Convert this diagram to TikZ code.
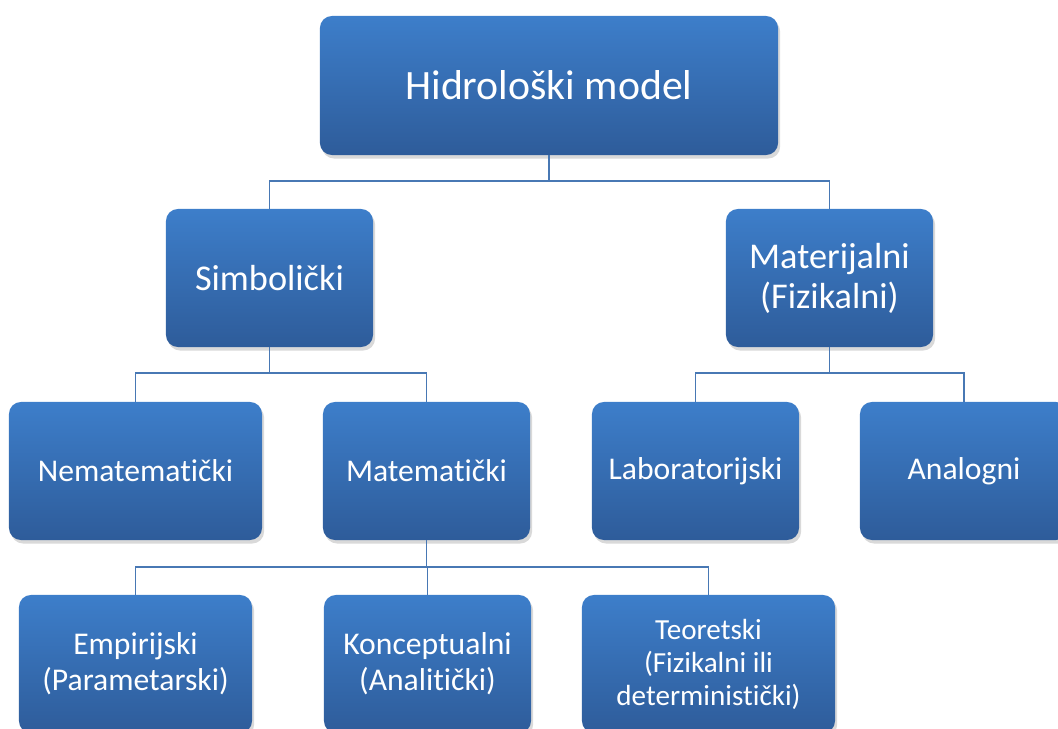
\documentclass[tikz,border=0pt]{standalone}
\usepackage{fontspec}
\setmainfont{Carlito}[Ligatures={NoCommon}]
\usetikzlibrary{shadows}
\definecolor{boxtop}{RGB}{61,126,202}
\definecolor{boxbot}{RGB}{46,92,154}
\definecolor{linkblue}{RGB}{72,120,180}

\begin{document}
\begin{tikzpicture}[
    x=0.025cm, y=-0.025cm,
    box/.style={
        rectangle,
        rounded corners=0.3cm,
        minimum width=#1,
        minimum height=3.45cm,
        inner sep=0pt,
        top color=boxtop,
        bottom color=boxbot,
        draw=none,
        text=white,
        align=center,
        drop shadow={shadow xshift=1.5pt, shadow yshift=-2.5pt, opacity=0.3}
    },
    box/.default=5.175cm,
    lvla/.style={font=\fontsize{29.7}{32}\selectfont},
    lvlb/.style={font=\fontsize{25.8}{28.5}\selectfont},
    lvlc/.style={font=\fontsize{22.5}{25.6}\selectfont},
    lvld/.style={font=\fontsize{20.7}{23.5}\selectfont},
    link/.style={draw=linkblue, line width=1.3pt}
]

\useasboundingbox (0,0) rectangle (1058,729);
\clip (0,0) rectangle (1058,729);

\coordinate (busa) at (0,181);
\coordinate (busb) at (0,373);
\coordinate (busc) at (0,567);

\node[box=11.45cm, minimum height=3.475cm, lvla] (hm) at (549,85.5) {Hidrološki model};

\node[box, lvlb] (simb) at (269.5,278) {Simbolički};
\node[box, lvlb] (mater) at (829.5,278) {Materijalni\\(Fizikalni)};

\node[box=6.325cm, lvlc] (nemat) at (135.5,471) {Nematematički};
\node[box, lvlc] (matem) at (426.5,471) {Matematički};
\node[box, lvlc] (lab) at (695.5,471) {Laboratorijski};
\node[box=5.2cm, lvlc] (anal) at (964,471) {Analogni};

\node[box=5.825cm, lvlc] (emp) at (135.5,664) {Empirijski\\(Parametarski)};
\node[box, lvlc] (konc) at (427.5,664) {Konceptualni\\(Analitički)};
\node[box=6.325cm, lvld] (teor) at (708.5,664) {Teoretski\\(Fizikalni ili\\deterministički)};

\draw[link] (hm.south) -- (hm.south |- busa) -| (simb.north);
\draw[link] (hm.south |- busa) -| (mater.north);

\draw[link] (simb.south) -- (simb.south |- busb) -| (nemat.north);
\draw[link] (simb.south |- busb) -| (matem.north);
\draw[link] (mater.south) -- (mater.south |- busb) -| (lab.north);
\draw[link] (mater.south |- busb) -| (anal.north);

\draw[link] (matem.south) -- (matem.south |- busc) -| (emp.north);
\draw[link] (matem.south |- busc) -| (konc.north);
\draw[link] (matem.south |- busc) -| (teor.north);

\end{tikzpicture}
\end{document}
